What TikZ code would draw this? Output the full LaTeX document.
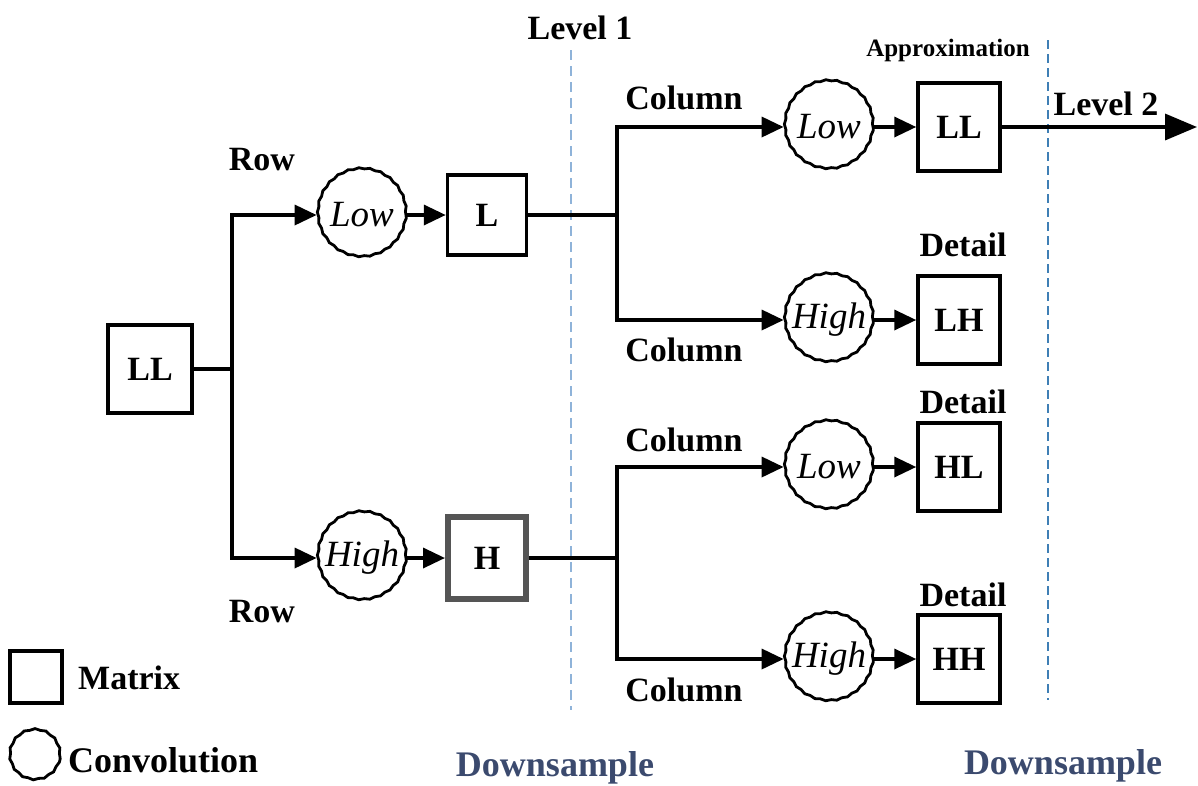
\documentclass[tikz,border=0pt]{standalone}
\usepackage{fontspec}
\setmainfont{Liberation Serif}
\usetikzlibrary{arrows.meta,decorations.pathmorphing}
\definecolor{dashlight}{HTML}{8FB3D9}
\definecolor{dashdark}{HTML}{3F7FB5}
\definecolor{dsblue}{HTML}{3B4A6E}
\definecolor{hgray}{HTML}{555555}
\begin{document}
\begin{tikzpicture}[x=1pt,y=-1pt,
  mat/.style={draw, line width=3.5pt, minimum width=82pt, minimum height=88pt, inner sep=0pt,
    font=\fontsize{34}{40}\selectfont\bfseries},
  conv/.style={circle, draw, line width=2.8pt, minimum size=88pt, inner sep=0pt,
    font=\fontsize{37}{42}\selectfont\itshape,
    decorate, decoration={snake, amplitude=0.6pt, segment length=11pt}},
  lbl/.style={font=\fontsize{34}{40}\selectfont\bfseries, inner sep=0pt},
  smalllbl/.style={font=\fontsize{25}{30}\selectfont\bfseries, inner sep=0pt},
  dslbl/.style={font=\fontsize{36}{42}\selectfont\bfseries, text=dsblue, inner sep=0pt},
  wire/.style={line width=3.5pt},
  arr/.style={wire, -{Triangle[length=22pt,width=20pt]}},
  bigarr/.style={wire, -{Triangle[length=32pt,width=26pt]}},
  lvlline/.style={line width=1.6pt, dash pattern=on 10pt off 6pt}
]
\useasboundingbox (0,0) rectangle (1198,785);

% dashed level lines
\draw[lvlline, draw=dashlight] (571,50) -- (571,710);
\draw[lvlline, draw=dashdark, line width=2.5pt, dash pattern=on 9pt off 5pt] (1048,40) -- (1048,700);

% nodes
\node[mat, minimum width=84pt, minimum height=88pt] (ll0) at (150,369) {LL};
\coordinate (j1) at (232,369);
\node[conv] (low1) at (362,215) {Low};
\node[conv] (high1) at (362,558) {High};
\node[mat, minimum width=79pt, minimum height=80pt] (L) at (487,215) {L};
\node[mat, draw=hgray, line width=6pt, minimum width=78pt, minimum height=82pt] (H) at (487,558) {H};
\coordinate (j2) at (617,215);
\coordinate (j3) at (617,558);

\node[conv] (c1) at (829,127) {Low};
\node[conv] (c2) at (829,320) {High};
\node[conv] (c3) at (829,467) {Low};
\node[conv] (c4) at (829,659) {High};

\node[mat] (m1) at (959,127) {LL};
\node[mat] (m2) at (959,320) {LH};
\node[mat] (m3) at (959,467) {HL};
\node[mat] (m4) at (959,659) {HH};
\coordinate (out) at (1197,127);

% connectors
\draw[wire] (ll0.east) -- (j1);
\draw[arr] (j1) |- (low1.west);
\draw[arr] (j1) |- (high1.west);
\draw[arr] (low1.east) -- (L.west);
\draw[arr] (high1.east) -- (H.west);
\draw[wire] (L.east) -- (j2);
\draw[arr] (j2) |- (c1.west);
\draw[arr] (j2) |- (c2.west);
\draw[wire] (H.east) -- (j3);
\draw[arr] (j3) |- (c3.west);
\draw[arr] (j3) |- (c4.west);
\draw[arr] (c1.east) -- (m1.west);
\draw[arr] (c2.east) -- (m2.west);
\draw[arr] (c3.east) -- (m3.west);
\draw[arr] (c4.east) -- (m4.west);
\draw[bigarr] (m1.east) -- (out);

% labels
\node[lbl] (t1) at (580,28) {Level 1};
\node[smalllbl] (t2) at (948,50) {Approximation};
\node[lbl] (t3) at (1106,104) {Level 2};
\node[lbl] (r1) at (262,160) {Row};
\node[lbl] (r2) at (262,612) {Row};
\node[lbl] (k1) at (684,98) {Column};
\node[lbl] (k2) at (684,350) {Column};
\node[lbl] (k3) at (684,440) {Column};
\node[lbl] (k4) at (684,690) {Column};
\node[lbl] (d1) at (963,245) {Detail};
\node[lbl] (d2) at (963,402) {Detail};
\node[lbl] (d3) at (963,595) {Detail};
\node[dslbl] (ds1) at (555,768) {Downsample};
\node[dslbl] (ds2) at (1063,766) {Downsample};

% legend
\node[draw, line width=3.5pt, minimum width=52pt, minimum height=52pt, inner sep=0pt] (legm) at (36,677) {};
\node[lbl, anchor=west] (legmt) at (78,678) {Matrix};
\node[conv, minimum size=50pt] (legc) at (35,757) {};
\node[lbl, font=\fontsize{36}{42}\selectfont\bfseries, anchor=west] (legct) at (68,760) {Convolution};
\end{tikzpicture}
\end{document}
